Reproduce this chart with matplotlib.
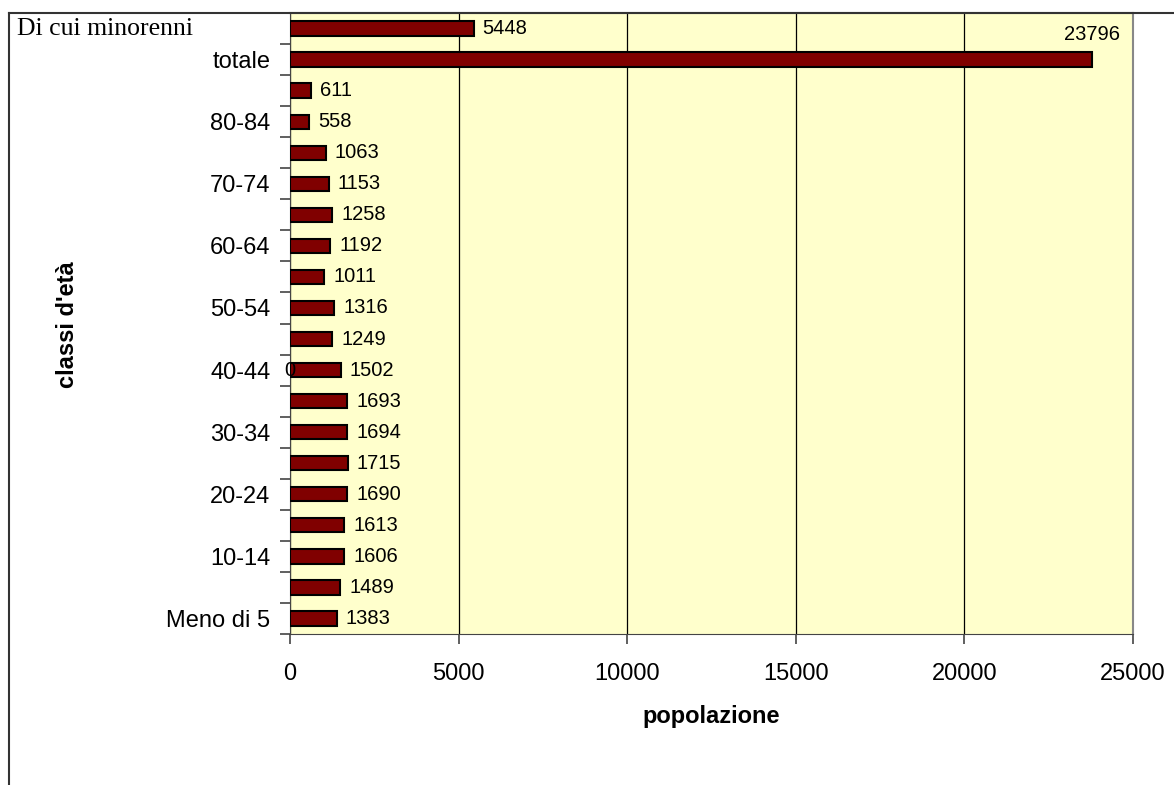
import matplotlib.pyplot as plt
from matplotlib.lines import Line2D
from matplotlib.ticker import FixedLocator
import matplotlib.transforms as mtransforms

# age classes, bottom to top
classi = ['Meno di 5', '5-9', '10-14', '15-19', '20-24', '25-29', '30-34', '35-39',
          '40-44', '45-49', '50-54', '55-59', '60-64', '65-69', '70-74', '75-79',
          '80-84', '85 e oltre', 'totale', 'Di cui minorenni']
popolazione = [1383, 1489, 1606, 1613, 1690, 1715, 1694, 1693, 1502, 1249,
               1316, 1011, 1192, 1258, 1153, 1063, 558, 611, 23796, 5448]
x_ticks = [0, 5000, 10000, 15000, 20000, 25000]

plt.rcParams['font.family'] = ['Liberation Sans', 'DejaVu Sans']

fig = plt.figure(figsize=(11.74, 7.85), dpi=100)
ax = fig.add_axes([290 / 1174, 1 - 634 / 785, 843 / 1174, 621 / 785])
ax.set_facecolor('#FFFFCC')

y = list(range(len(classi)))
ax.barh(y, popolazione, height=0.46, color='#800000', edgecolor='black',
        linewidth=1.5, zorder=3)

ax.set_xlim(0, 25000)
ax.set_ylim(-0.5, len(classi) - 0.5)
ax.set_xticks(x_ticks)
ax.set_xticklabels([str(v) for v in x_ticks], fontsize=17)
ax.grid(axis='x', color='black', linewidth=0.9, zorder=1)

# labels on every other class, ticks on class boundaries
ax.set_yticks([i for i in y[:-1] if i % 2 == 0])
ax.set_yticklabels([classi[i] for i in y[:-1] if i % 2 == 0], fontsize=17)
ax.tick_params(axis='y', which='major', length=0, pad=14)
ax.yaxis.set_minor_locator(FixedLocator([i + 0.5 for i in range(-1, len(classi))]))
ax.tick_params(axis='y', which='minor', length=7, width=1.2, direction='out', color='#444444')
ax.tick_params(axis='x', length=7, width=1.2, direction='out', pad=14, color='#444444')

for s in ['top', 'right']:
    ax.spines[s].set_color('#888888')
    ax.spines[s].set_linewidth(1.5)
for s in ['left', 'bottom']:
    ax.spines[s].set_color('#444444')

# data labels
for i, v in enumerate(popolazione):
    if v > 20000:
        ax.annotate(str(v), (v, i), xytext=(20, 18), textcoords='offset points',
                    ha='right', va='center', fontsize=14.5)
    else:
        ax.annotate(str(v), (v, i), xytext=(6.5, 0), textcoords='offset points',
                    ha='left', va='center', fontsize=14.5)
ax.text(0, 8, '0', ha='center', va='center', fontsize=14.5, zorder=4)

# last category label drawn in a separate serif text
trans = mtransforms.blended_transform_factory(fig.transFigure, ax.transData)
ax.text(17 / 1174, len(classi) - 1, classi[-1], transform=trans, ha='left', va='center',
        fontsize=18.5, family='Liberation Serif')

ax.set_xlabel('popolazione', fontsize=17, fontweight='bold')
ax.xaxis.set_label_coords(0.5, 1 - 716 / 785,
                          transform=mtransforms.blended_transform_factory(ax.transAxes, fig.transFigure))
ax.set_ylabel("classi d'età", fontsize=17, fontweight='bold')
ax.yaxis.set_label_coords(67 / 1174, 1 - 325 / 785, transform=fig.transFigure)
ax.xaxis.label.set_va('center')
ax.yaxis.label.set_va('center')

# frame lines around the chart
fig.add_artist(Line2D([9 / 1174, 9 / 1174], [0, 1 - 13 / 785], transform=fig.transFigure,
                      color='#333333', linewidth=1.5))
fig.add_artist(Line2D([9 / 1174, 1], [1 - 13 / 785, 1 - 13 / 785], transform=fig.transFigure,
                      color='#333333', linewidth=1.5))

fig.savefig('out.png', dpi=100)
